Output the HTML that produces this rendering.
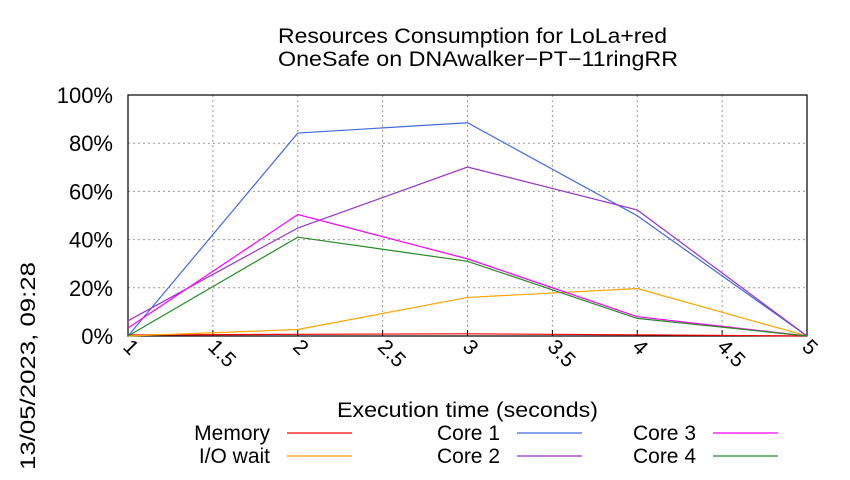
<!DOCTYPE html>
<html><head><meta charset="utf-8"><style>
body{margin:0;background:#fff;}
svg text{font-family:"Liberation Sans",sans-serif;fill:#000;}
</style></head><body>
<svg width="850" height="475" viewBox="0 0 850 475" xmlns="http://www.w3.org/2000/svg">
<rect width="850" height="475" fill="#fff"/>
<text x="278" y="43" font-size="21" textLength="389" lengthAdjust="spacingAndGlyphs">Resources Consumption for LoLa+red</text>
<text x="278" y="66" font-size="21" textLength="400" lengthAdjust="spacingAndGlyphs">OneSafe on DNAwalker−PT−11ringRR</text>
<text transform="translate(35,470) rotate(-90)" font-size="21" textLength="208" lengthAdjust="spacingAndGlyphs">13/05/2023, 09:28</text>
<g id="grid"></g>
<g id="axes"></g>
<g id="series"></g>
<text x="337" y="417" font-size="21" textLength="261" lengthAdjust="spacingAndGlyphs">Execution time (seconds)</text>
<g id="legend"></g>
</svg>
<script>
const xTicks=[1,1.5,2,2.5,3,3.5,4,4.5,5];
const yTicks=[0,20,40,60,80,100];
const times=[1,2,3,4,5];
const memory=[0.4,0.7,0.9,0.5,0];
const ioWait=[0,2.7,16,19.7,0];
const core1=[0,84.2,88.5,49.9,0];
const core2=[6.3,44.8,70.1,52.3,0];
const core3=[3.3,50.4,32,8,0];
const core4=[0,41,31,7.3,0];
const seriesNames=["Memory","I/O wait","Core 1","Core 2","Core 3","Core 4"];
const seriesColors=["#ff0000","#ffa500","#4169e1","#9932cc","#ff00ff","#228b22"];
const seriesData=[memory,ioWait,core1,core2,core3,core4];
const L=128,R=807,T=95,B=336;
const sx=v=>L+(v-1)/4*(R-L);
const sy=v=>B-v/100*(B-T);
const NS="http://www.w3.org/2000/svg";
function mk(tag,attrs,parent){const e=document.createElementNS(NS,tag);for(const k in attrs)e.setAttribute(k,attrs[k]);document.getElementById(parent).appendChild(e);return e;}
xTicks.forEach(t=>{
 const g=mk('line',{x1:sx(t),x2:sx(t),y1:T,y2:B,stroke:'#999','stroke-dasharray':'2,3','stroke-width':1},'grid');
 
 
 const tk=mk('line',{x1:sx(t),x2:sx(t),y1:B,y2:B-6,stroke:'#000'},'axes');
 
 
 const lb=mk('text',{transform:`translate(${sx(t)-6},${B+12}) rotate(45)`,'font-size':21},'axes');
 lb.textContent=String(t);
 
 
});
yTicks.forEach(t=>{
 const g=mk('line',{x1:L,x2:R,y1:sy(t),y2:sy(t),stroke:'#999','stroke-dasharray':'2,3','stroke-width':1},'grid');
 
 
 const lb=mk('text',{x:L-15,y:sy(t)+8,'font-size':22,'text-anchor':'end'},'axes');
 lb.textContent=t+'%';
 
 
});
const fr=mk('rect',{x:L,y:T,width:R-L,height:B-T,fill:'none',stroke:'#000','stroke-width':1.2},'axes');


seriesData.forEach((d,i)=>{
 const p=mk('polyline',{points:d.map((v,j)=>sx(times[j])+','+sy(v)).join(' '),fill:'none',stroke:seriesColors[i],'stroke-width':1.2},'series');
 
 
});
const legX=[270,500,696],legY=[433,456];
seriesNames.forEach((n,i)=>{
 const c=Math.floor(i/2),r=i%2;
 const t=mk('text',{x:legX[c],y:legY[r]+7,'font-size':21,'text-anchor':'end'},'legend');
 t.textContent=n;
 
 
 const l=mk('line',{x1:legX[c]+17,x2:legX[c]+82,y1:legY[r],y2:legY[r],stroke:seriesColors[i],'stroke-width':1.2},'legend');
 
 
});
</script>
</body></html>
